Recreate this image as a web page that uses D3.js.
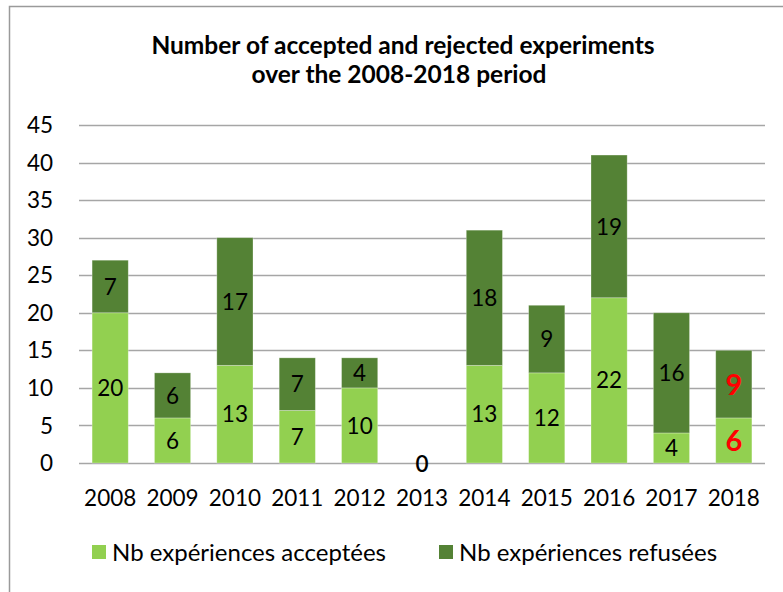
<!DOCTYPE html>
<html>
<head>
<meta charset="utf-8">
<script src="https://cdn.jsdelivr.net/npm/d3@7"></script>
<style>
  body { margin: 0; background: #fff; }
  svg text { font-family: Lato, "Open Sans", sans-serif; }
</style>
</head>
<body>
<div id="chart"></div>
<script>
// chart data
var years = ["2008", "2009", "2010", "2011", "2012", "2013", "2014", "2015", "2016", "2017", "2018"];
var accepted = [20, 6, 13, 7, 10, 0, 13, 12, 22, 4, 6];
var rejected = [7, 6, 17, 7, 4, 0, 18, 9, 19, 16, 9];
var yTicks = [0, 5, 10, 15, 20, 25, 30, 35, 40, 45];
var seriesNames = ["Nb expériences acceptées", "Nb expériences refusées"];
var colors = ["#92D050", "#548235"];

var width = 783, height = 592;
var margin = {top: 125, right: 18, bottom: 129, left: 79};
var innerW = width - margin.left - margin.right;
var innerH = height - margin.top - margin.bottom;

var svg = d3.select("#chart").append("svg")
    .attr("width", width)
    .attr("height", height);

// outer frame (runs off the right and bottom edges)
svg.append("rect")
    .attr("x", 9.5).attr("y", 6.5)
    .attr("width", 800).attr("height", 620)
    .attr("fill", "none")
    .attr("stroke", "#9a9a9a")
    .attr("stroke-width", 1.5);

// title
var title = svg.append("text")
    .attr("text-anchor", "middle")
    .attr("font-weight", "bold")
    .attr("font-size", 24.5)
    .attr("fill", "#000");
title.append("tspan").attr("x", 403).attr("y", 54).text("Number of accepted and rejected experiments");
title.append("tspan").attr("x", 399).attr("y", 83).text("over the 2008-2018 period");

var g = svg.append("g")
    .attr("transform", "translate(" + margin.left + "," + margin.top + ")");

var x = d3.scaleBand()
    .domain(years)
    .range([0, innerW])
    .paddingInner(0.42)
    .paddingOuter(0.21);

var y = d3.scaleLinear()
    .domain([0, 45])
    .range([innerH, 0]);

// gridlines
g.selectAll("line.grid")
    .data(yTicks)
    .enter()
    .append("line")
    .attr("class", "grid")
    .attr("x1", 0).attr("x2", innerW)
    .attr("y1", function (d) { return Math.round(y(d)) + 0.5; })
    .attr("y2", function (d) { return Math.round(y(d)) + 0.5; })
    .attr("stroke", "#a6a6a6")
    .attr("stroke-width", 1.3);

// y axis labels
g.selectAll("text.ytick")
    .data(yTicks)
    .enter()
    .append("text")
    .attr("class", "ytick")
    .attr("x", -26)
    .attr("y", function (d) { return y(d); })
    .attr("dy", "0.36em")
    .attr("text-anchor", "end")
    .attr("font-size", 22.5)
    .text(function (d) { return d; });

// x axis labels
g.selectAll("text.xtick")
    .data(years)
    .enter()
    .append("text")
    .attr("class", "xtick")
    .attr("x", function (d) { return x(d) + x.bandwidth() / 2; })
    .attr("y", innerH + 43)
    .attr("text-anchor", "middle")
    .attr("font-size", 22.5)
    .text(function (d) { return d; });

// stacked data
var rows = years.map(function (yr, i) {
    return {year: yr, acc: accepted[i], rej: rejected[i]};
});
var stack = d3.stack().keys(["acc", "rej"]);
var layers = stack(rows);

var layerG = g.selectAll("g.layer")
    .data(layers)
    .enter()
    .append("g")
    .attr("class", "layer")
    .attr("fill", function (d, i) { return colors[i]; });

layerG.selectAll("rect")
    .data(function (d) { return d; })
    .enter()
    .append("rect")
    .attr("x", function (d) { return x(d.data.year); })
    .attr("y", function (d) { return y(d[1]); })
    .attr("width", x.bandwidth())
    .attr("height", function (d) { return y(d[0]) - y(d[1]); })
    .attr("stroke", "#ffffff")
    .attr("stroke-opacity", 0.35)
    .attr("stroke-width", 0.8);

// value labels
layerG.selectAll("text")
    .data(function (d) { return d; })
    .enter()
    .append("text")
    .filter(function (d) { return d[1] - d[0] > 0; })
    .attr("x", function (d) { return x(d.data.year) + x.bandwidth() / 2; })
    .attr("y", function (d) { return y((d[0] + d[1]) / 2); })
    .attr("dy", "0.36em")
    .attr("text-anchor", "middle")
    .attr("font-size", function (d) { return d.data.year === "2018" ? 29 : 22.5; })
    .attr("font-weight", function (d) { return d.data.year === "2018" ? "bold" : "normal"; })
    .attr("fill", function (d) { return d.data.year === "2018" ? "#ff0000" : "#000"; })
    .text(function (d) { return d[1] - d[0]; });

// zero label for empty year
g.selectAll("text.zero")
    .data(rows.filter(function (d) { return d.acc + d.rej === 0; }))
    .enter()
    .append("text")
    .attr("class", "zero")
    .attr("x", function (d) { return x(d.year) + x.bandwidth() / 2; })
    .attr("y", y(0) + 1)
    .attr("dy", "0.36em")
    .attr("text-anchor", "middle")
    .attr("font-size", 22.5)
    .attr("font-weight", 600)
    .text(0);

// legend
var legendX = [92, 439];
var legend = svg.selectAll("g.legend")
    .data(seriesNames)
    .enter()
    .append("g")
    .attr("class", "legend")
    .attr("transform", function (d, i) { return "translate(" + legendX[i] + ",552)"; });

legend.append("rect")
    .attr("x", 0).attr("y", -7)
    .attr("width", 14).attr("height", 14)
    .attr("fill", function (d, i) { return colors[i]; });

legend.append("text")
    .attr("x", 20)
    .attr("y", 0)
    .attr("dy", "0.36em")
    .attr("font-size", 24)
    .text(function (d) { return d; });
</script>
</body>
</html>
